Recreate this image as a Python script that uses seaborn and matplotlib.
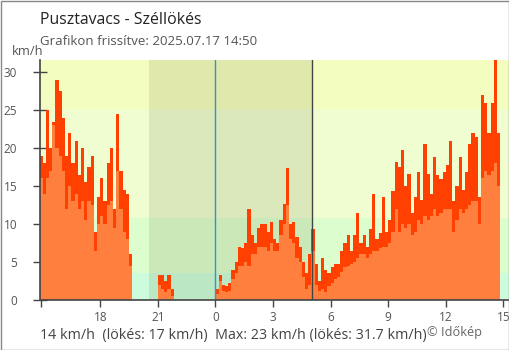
import numpy as np
import pandas as pd
import matplotlib
matplotlib.use("Agg")
import matplotlib.pyplot as plt
import seaborn as sns
from matplotlib.patches import Rectangle

sns.set_theme(style="white")
plt.rcParams['font.family'] = ['Open Sans', 'DejaVu Sans']

# ---- data (hours relative to midnight, 10-minute steps) ----
seg1_start = -9 - 10/60          # 14:50 previous day
gust_seg1 = [19, 18, 25, 20, 23.5, 29, 27.5, 24, 19, 22, 18, 21, 16.5, 20, 15.5,
             17.5, 19, 9, 13.5, 16, 13, 18, 20, 12, 24.5, 17, 14.5, 14, 6]
mean_seg1 = [16, 14, 16, 17, 23, 20, 19, 17, 12, 15, 13, 14, 12, 13, 10.5,
             13, 12.5, 6.5, 10, 11, 10, 12.5, 13, 9.5, 17, 12, 9, 8, 4.5]

seg2_start = -3.0                # 21:00
gust_seg2 = [3.3, 3.3, 2.5, 3.3, 1.5]
mean_seg2 = [2, 1.5, 1, 1.5, 0.5]

seg3_start = 0.0                 # 00:00
gust_seg3 = [1.5, 3.3, 2, 1.8, 2.2, 4, 5, 7, 6.8, 7.5, 12, 8.5, 7.5, 9.5, 10, 10,
             9, 10.3, 8, 7.5, 10.5, 12.7, 17.4, 10, 10.3, 8.3, 7, 5, 3.5, 6,
             9.4, 4.8, 2.5, 5.5, 3.9, 3.5, 4.3, 4.7, 4.7, 6.4, 7.5, 8.6, 6.5, 8.6,
             11.5, 7.5, 8.6, 7, 9.4, 14, 8, 8.8, 13.5, 9, 10.5, 14.3, 18.2, 17.5,
             19.7, 15, 16.6, 11.5, 13.5, 16.9, 13.2, 20.5, 16.6, 14, 18.8, 16.4,
             15.9, 16.9, 17.8, 21, 13, 15, 18.8, 14.5, 16.9, 20.6, 22, 21.5, 13.5,
             27, 26, 22, 26, 31.7, 22]
mean_seg3 = [0.8, 2.5, 1.2, 1, 1.2, 2.8, 3.5, 4.5, 4.5, 5, 4.5, 6, 6, 7, 7, 7,
             6.5, 7.5, 6.5, 6.5, 8.5, 10, 12.5, 8, 7.5, 5.5, 5, 3, 1.5, 2,
             6.5, 2, 1.2, 1.5, 1, 1.8, 2.3, 2.8, 3, 3.7, 4.3, 4.5, 4.8, 5,
             5.5, 6, 6, 5.5, 6, 6.5, 6.5, 6.8, 7, 7, 7.5, 9, 12, 9,
             10, 9.5, 10, 8.5, 9, 10.5, 10, 11, 10.5, 11, 12, 11,
             11.5, 12, 12, 12, 9, 10.5, 12, 11.5, 12, 12.5, 13, 13, 10,
             16, 17, 16.5, 17, 18, 15]

band_edges = [0, 3.6, 10.8, 25.2, 40]
band_colors = ['#cdfcdc', '#dcfdcd', '#effdd1', '#f4fdc0']
x_tick_pos = [-6, -3, 0, 3, 6, 9, 12, 15]
x_tick_labels = ['18', '21', '0', '3', '6', '9', '12', '15']
y_ticks = [0, 5, 10, 15, 20, 25, 30]
night_start, night_end = -3.47, 5.02

step = 1 / 6
rows = []
for start, g, m in [(seg1_start, gust_seg1, mean_seg1),
                    (seg2_start, gust_seg2, mean_seg2),
                    (seg3_start, gust_seg3, mean_seg3)]:
    for i, (gv, mv) in enumerate(zip(g, m)):
        rows.append((start + i * step + step / 2, gv, mv))
df = pd.DataFrame(rows, columns=['t', 'gust', 'mean'])

W, H = 510, 350
fig = plt.figure(figsize=(W / 100, H / 100), dpi=100)
x0, x1 = 40.5, 509.5
y_top, y_bot = 60, 300
ax = fig.add_axes([x0 / W, (H - y_bot) / H, (x1 - x0) / W, (y_bot - y_top) / H])

xmin = -9.11
xmax = xmin + (x1 - x0) / 19.2

for lo, hi, c in zip(band_edges[:-1], band_edges[1:], band_colors):
    ax.axhspan(lo, hi, color=c, zorder=0, lw=0)
ax.axvspan(night_start, night_end, color='#303000', alpha=0.1, zorder=0.5, lw=0)

nbins = int(round((15.0 - seg1_start) / step))
sns.histplot(data=df, x='t', weights='gust', binwidth=step,
             binrange=(seg1_start, seg1_start + nbins * step),
             color='#ff4000', alpha=1, linewidth=0, ax=ax, zorder=2)
sns.histplot(data=df, x='t', weights='mean', binwidth=step,
             binrange=(seg1_start, seg1_start + nbins * step),
             color='#ff7f3f', alpha=1, linewidth=0, ax=ax, zorder=3)

ax.axvline(0, color='#2f95d0', lw=1, zorder=4)
ax.axvline(night_end, color='#444444', lw=1, zorder=4)

ax.set_xlim(xmin, xmax)
ax.set_ylim(0, 31.6)
ax.set_xlabel('')
ax.set_ylabel('')
for s in ['top', 'right']:
    ax.spines[s].set_visible(False)
for s in ['left', 'bottom']:
    ax.spines[s].set_color('#444444')
    ax.spines[s].set_linewidth(1.2)
    ax.spines[s].set_zorder(5)

ax.set_xticks([xmin] + x_tick_pos)
ax.set_xticklabels([''] + x_tick_labels)
ax.set_yticks(y_ticks)
ax.set_yticklabels([str(v) for v in y_ticks])
ax.tick_params(axis='x', direction='out', length=5, width=1, color='#444444',
               labelsize=8.5, labelcolor='#555555', pad=3)
ax.tick_params(axis='y', direction='inout', length=9.4, width=1, color='#444444',
               labelsize=8.5, labelcolor='#555555', pad=12)
ax.tick_params(bottom=True, left=True)

fig.text(40.5 / W, 1 - 24 / H, 'Pusztavacs - Széllökés', fontsize=11.4,
         color='#222222', va='baseline', ha='left')
fig.text(40.5 / W, 1 - 45 / H, 'Grafikon frissítve: 2025.07.17 14:50', fontsize=9.5,
         color='#555555', va='baseline', ha='left')
fig.text(12 / W, 1 - 55 / H, 'km/h', fontsize=9.3, color='#555555',
         va='baseline', ha='left')
fig.text(40.5 / W, 1 - 339 / H,
         '14 km/h  (lökés: 17 km/h)  Max: 23 km/h (lökés: 31.7 km/h)',
         fontsize=10.3, color='#444444', va='baseline', ha='left')
fig.text(427 / W, 1 - 336 / H, '© Időkép', fontsize=9.2, color='#666666',
         va='baseline', ha='left')

fig.patches.append(Rectangle((0.5 / W, 0.5 / H), (W - 1) / W, (H - 1) / H,
                             transform=fig.transFigure, fill=False,
                             edgecolor='#888888', lw=1))

fig.savefig('out.png', dpi=100)
